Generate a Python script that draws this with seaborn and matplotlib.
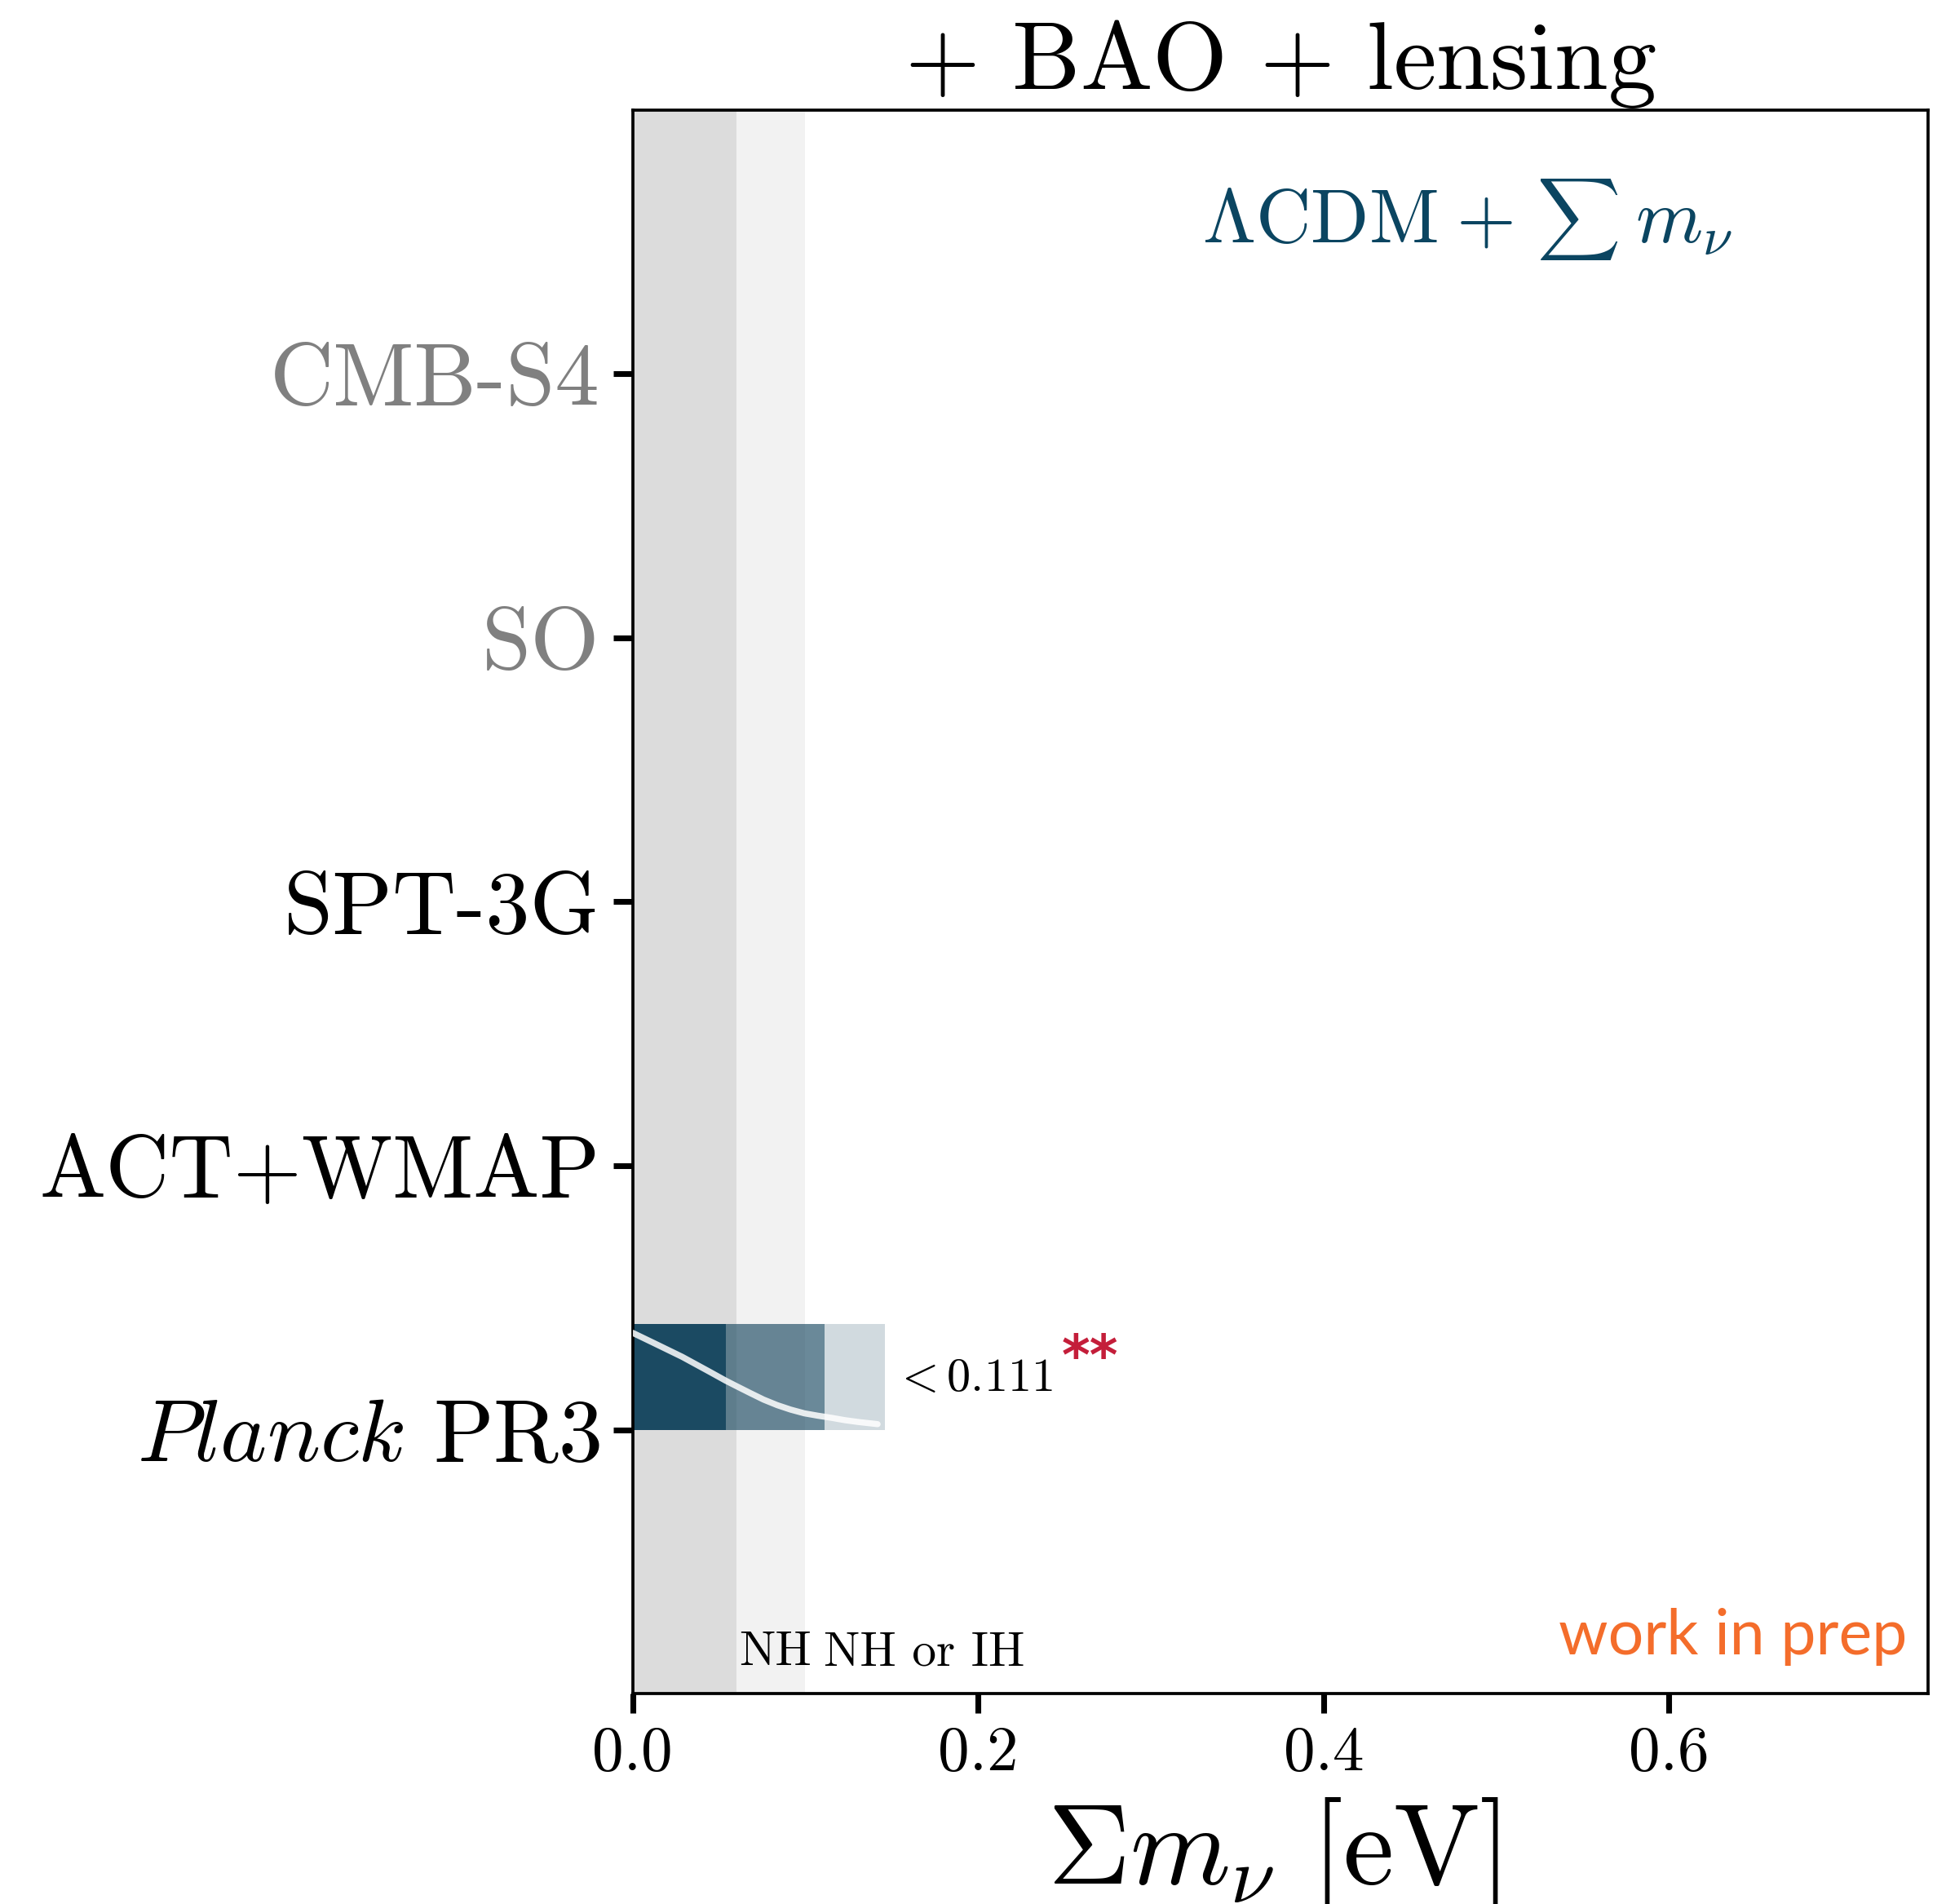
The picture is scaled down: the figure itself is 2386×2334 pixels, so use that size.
import matplotlib
matplotlib.use("Agg")
import matplotlib.pyplot as plt
import seaborn as sns

# Experiments on the y axis (bottom to top) and their label colours
experiments = [r"$\mathit{Planck}$ PR3", "ACT+WMAP", "SPT-3G", "SO", "CMB-S4"]
label_colors = ["black", "black", "black", "#808080", "#808080"]
y_pos = [0, 1, 2, 3, 4]

# Sum of neutrino masses [eV]: Planck PR3 one-sided intervals (68%, 95%, 99.7%)
planck_limits = [0.054, 0.111, 0.146]
interval_alphas = [1.0, 0.65, 0.2]
planck_label = r"$< 0.111$"

# Marginalised posterior drawn inside the Planck bar
post_mnu = [0.0, 0.0130, 0.0287, 0.0444, 0.0538, 0.0601, 0.0680, 0.0758,
            0.0837, 0.0915, 0.0994, 0.1072, 0.1151, 0.1229, 0.1308, 0.1418]
post_height = [0.367, 0.326, 0.276, 0.220, 0.186, 0.165, 0.139, 0.114,
               0.093, 0.076, 0.062, 0.053, 0.045, 0.036, 0.029, 0.021]

# Oscillation lower bounds: normal and inverted hierarchy
nh_min = 0.06
ih_min = 0.10

x_ticks = [0.0, 0.2, 0.4, 0.6]
x_tick_labels = ["0.0", "0.2", "0.4", "0.6"]

bar_color = "#1b4a62"
model_color = "#0b4561"

sns.set_theme(style="ticks")
plt.rcParams.update({
    "font.family": "serif",
    "font.serif": ["cmr10"],
    "mathtext.fontset": "cm",
    "axes.formatter.use_mathtext": True,
    "axes.unicode_minus": False,
    "text.color": "black",
    "axes.labelcolor": "black",
    "axes.edgecolor": "black",
    "axes.linewidth": 0.9,
    "xtick.color": "black",
    "ytick.color": "black",
})

fig = plt.figure(figsize=(2386 / 300, 2334 / 300), dpi=300)
ax = fig.add_axes([0.3251, 0.1105, 0.6657, 0.8317])

# hierarchy bands
ax.axvspan(0, nh_min, color="#dcdcdc", lw=0, zorder=0)
ax.axvspan(nh_min, ih_min, color="#f2f2f2", lw=0, zorder=0)

# Planck PR3 interval bar
lefts = [0.0] + planck_limits[:-1]
for left, right, a in zip(lefts, planck_limits, interval_alphas):
    ax.barh(y_pos[0], right - left, left=left, height=0.4, align="edge",
            color=bar_color, alpha=a, lw=0, zorder=2)

sns.lineplot(x=post_mnu, y=post_height, color="white", alpha=0.85, lw=1.8,
             ax=ax, zorder=3)

ax.set_xlim(0, 0.75)
ax.set_ylim(-1, 5)

ax.set_yticks(y_pos)
ax.set_yticklabels(experiments, fontsize=26)
for lab, c in zip(ax.get_yticklabels(), label_colors):
    lab.set_color(c)
ax.set_xticks(x_ticks)
ax.set_xticklabels(x_tick_labels, fontsize=18.5)
ax.tick_params(axis="both", which="major", direction="out", length=5.7,
               width=1.7, pad=3.8)
ax.tick_params(axis="y", pad=3.9)

for side in ["top", "right", "bottom", "left"]:
    ax.spines[side].set_visible(True)
    ax.spines[side].set_linewidth(0.9)

ax.set_title(r"$+$ BAO $+$ lensing", fontsize=28.4, pad=5)
ax.set_xlabel(r"$\Sigma m_\nu\ [\mathrm{eV}]$", fontsize=33.7, labelpad=4)
ax.xaxis.label.set_x(0.4947)

ax.text(nh_min + 0.0018, -0.8925, "NH", fontsize=14.2, ha="left", va="baseline")
ax.text(ih_min + 0.0107, -0.8925, "NH or IH", fontsize=14.2, ha="left", va="baseline")

ax.text(0.151, 0.148, planck_label, fontsize=14, ha="left", va="baseline")
ax.text(0.2485, 0.166, "**", fontsize=16, color="#c41e3a", fontweight="bold",
        family="DejaVu Sans", ha="left", va="bottom")

# model label: LCDM + sum m_nu
ax.text(0.3297, 4.5, r"$\Lambda\mathrm{CDM}$", fontsize=22.5,
        color=model_color, ha="left", va="baseline")
ax.text(0.4768, 4.5, r"$+$", fontsize=22.5, color=model_color,
        ha="left", va="baseline")
ax.text(0.5235, 4.585, r"$\sum$", fontsize=17, color=model_color,
        ha="left", va="center")
ax.text(0.5806, 4.5, r"$m_\nu$", fontsize=22.5, color=model_color,
        ha="left", va="baseline")

ax.text(0.984, 0.025, "work in prep", transform=ax.transAxes, fontsize=18.5,
        color="#f46d2b", family="Lato", ha="right", va="baseline")

fig.savefig("out.png", dpi=300)
